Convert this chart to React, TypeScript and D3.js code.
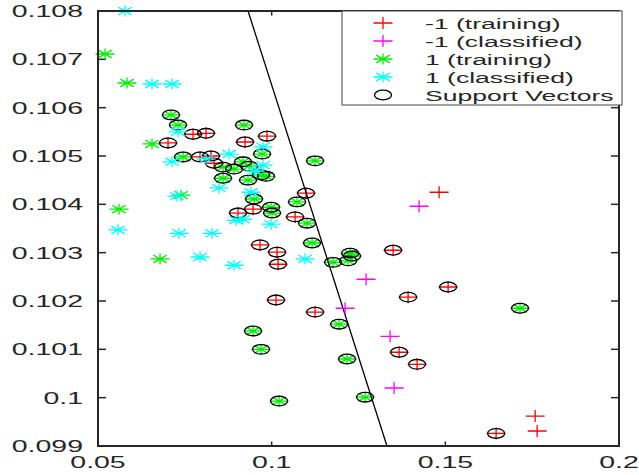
import React from "react";
import * as d3 from "d3";

// ---- data ----
const negTraining: [number, number][] = [
  [0.07016, 0.10527], [0.07736, 0.10545], [0.0811, 0.10547], [0.09234, 0.10529],
  [0.09867, 0.10541], [0.07938, 0.10498], [0.08254, 0.105], [0.08341, 0.10485],
  [0.09032, 0.10382], [0.09464, 0.1039], [0.1099, 0.10423], [0.10674, 0.10374],
  [0.09666, 0.10316], [0.10155, 0.10301], [0.10184, 0.10276], [0.10126, 0.10202],
  [0.1125, 0.10177], [0.13496, 0.10305], [0.1508, 0.10229], [0.13928, 0.10208],
  [0.13669, 0.10094], [0.14187, 0.10069], [0.16462, 0.09926],
  [0.14821, 0.10425], [0.17586, 0.09962], [0.17644, 0.09931],
];
const negClassified: [number, number][] = [
  [0.14245, 0.10396], [0.12718, 0.10245], [0.12114, 0.10185], [0.1341, 0.10127], [0.13525, 0.1002],
];
const posTraining: [number, number][] = [
  [0.05202, 0.10711], [0.05835, 0.10651], [0.06555, 0.10525], [0.05605, 0.1039],
  [0.0739, 0.10419], [0.06786, 0.10287],
  [0.07102, 0.10585], [0.07304, 0.10564], [0.07448, 0.10498], [0.09205, 0.10564],
  [0.09723, 0.10504], [0.086, 0.10477], [0.08917, 0.10473], [0.09176, 0.10488],
  [0.09349, 0.10479], [0.086, 0.10454], [0.0932, 0.1045], [0.09694, 0.10461],
  [0.09838, 0.10458], [0.09493, 0.10411], [0.09983, 0.10394], [0.10011, 0.10382],
  [0.10731, 0.10405], [0.11019, 0.10361], [0.1125, 0.1049], [0.11163, 0.1032],
  [0.11768, 0.1028], [0.12258, 0.10299], [0.12315, 0.10293], [0.122, 0.10283],
  [0.09464, 0.10138], [0.09694, 0.101], [0.10213, 0.09993], [0.11941, 0.10152],
  [0.12171, 0.1008], [0.1269, 0.10001], [0.1715, 0.10185],
];
const posClassified: [number, number][] = [
  [0.05778, 0.108], [0.06555, 0.10649], [0.07131, 0.10649], [0.07303, 0.1055],
  [0.07131, 0.10488], [0.0811, 0.10494], [0.08773, 0.10504], [0.08485, 0.10434],
  [0.09406, 0.10425], [0.09752, 0.10519], [0.09752, 0.10481], [0.09522, 0.10469],
  [0.08974, 0.10367], [0.09176, 0.10369], [0.09983, 0.10359], [0.05576, 0.10347],
  [0.07333, 0.1034], [0.08283, 0.1034], [0.07938, 0.10291], [0.08917, 0.10274],
  [0.10962, 0.10287], [0.07275, 0.10417],
];
const supportVectors: [number, number][] = [
  ...negTraining.slice(0, 23),
  ...posTraining.slice(6),
];
const boundary: [number, number][] = [[0.0932, 0.108], [0.1332, 0.099]];

const xTicks = [0.05, 0.1, 0.15, 0.2];
const xTickLabels = ["0.05", "0.1", "0.15", "0.2"];
const yTicks = [0.099, 0.1, 0.101, 0.102, 0.103, 0.104, 0.105, 0.106, 0.107, 0.108];
const yTickLabels = ["0.099", "0.1", "0.101", "0.102", "0.103", "0.104", "0.105", "0.106", "0.107", "0.108"];
const legendLabels = ["-1 (training)", "-1 (classified)", "1 (training)", "1 (classified)", "Support Vectors"];

// ---- layout ----
const W = 639, H = 475;
const L = 98, R = 619, T = 11, B = 446;
const SX = 1.78;
const RED = "#ff0000", MAG = "#ff00ff", GRN = "#00f000", CYN = "#00ffff";
const AX = "#262626";

const x = d3.scaleLinear().domain([0.05, 0.2]).range([L, R]);
const y = d3.scaleLinear().domain([0.099, 0.108]).range([B, T]);

const plusPath = (cx: number, cy: number) =>
  `M${cx - 9.5},${cy}H${cx + 9.5}M${cx},${cy - 6}V${cy + 6}`;
const starPath = (cx: number, cy: number) =>
  `M${cx - 9.5},${cy}H${cx + 9.5}M${cx},${cy - 5.5}V${cy + 5.5}` +
  `M${cx - 6.7},${cy - 3.9}L${cx + 6.7},${cy + 3.9}M${cx - 6.7},${cy + 3.9}L${cx + 6.7},${cy - 3.9}`;

function Txt({ x0, y0, anchor, size, children }: any) {
  return (
    <text
      transform={`translate(${x0},${y0}) scale(${SX},1)`}
      textAnchor={anchor}
      fontSize={size}
      fontFamily="'Liberation Sans', Arial, sans-serif"
      fill={AX}
    >
      {children}
    </text>
  );
}

export default function App() {
  const line = d3.line<[number, number]>().x((d) => x(d[0])).y((d) => y(d[1]));
  const legendRows = [
    { color: RED, kind: "plus" },
    { color: MAG, kind: "plus" },
    { color: GRN, kind: "star" },
    { color: CYN, kind: "star" },
    { color: "#000", kind: "circle" },
  ];
  const lx = 342, ly = 11, lw = 280, lh = 94;
  return (
    <svg width={W} height={H} style={{ position: "fixed", left: 0, top: 0, background: "#fff" }}>
      <rect x={0} y={0} width={W} height={H} fill="#fff" />
      <defs>
        <clipPath id="plotclip">
          <rect x={L - 12} y={T - 8} width={R - L + 24} height={B - T + 16} />
        </clipPath>
      </defs>
      {/* ticks */}
      {xTicks.map((t, i) => (
        <g key={"xt" + i}>
          <line x1={x(t)} x2={x(t)} y1={B} y2={B - 4.5} stroke={AX} strokeWidth={1.5} />
          <line x1={x(t)} x2={x(t)} y1={T} y2={T + 4.5} stroke={AX} strokeWidth={1.5} />
          <Txt x0={x(t)} y0={468} anchor="middle" size={16}>{xTickLabels[i]}</Txt>
        </g>
      ))}
      {yTicks.map((t, i) => (
        <g key={"yt" + i}>
          <line x1={L} x2={L + 8} y1={y(t)} y2={y(t)} stroke={AX} strokeWidth={1.5} />
          <line x1={R} x2={R - 8} y1={y(t)} y2={y(t)} stroke={AX} strokeWidth={1.5} />
          <Txt x0={83} y0={y(t) + 6} anchor="end" size={16}>{yTickLabels[i]}</Txt>
        </g>
      ))}
      <g clipPath="url(#plotclip)" fill="none" strokeWidth={1.3}>
        {negTraining.map((d, i) => (
          <path key={"nt" + i} d={plusPath(x(d[0]), y(d[1]))} stroke={RED} />
        ))}
        {posTraining.map((d, i) => (
          <path key={"pt" + i} d={starPath(x(d[0]), y(d[1]))} stroke={GRN} />
        ))}
        {supportVectors.map((d, i) => (
          <ellipse key={"sv" + i} cx={x(d[0])} cy={y(d[1])} rx={8.5} ry={4.8} stroke="#000" />
        ))}
        <path d={line(boundary) || ""} stroke="#000" strokeWidth={1.3} />
        {negClassified.map((d, i) => (
          <path key={"nc" + i} d={plusPath(x(d[0]), y(d[1]))} stroke={MAG} />
        ))}
        {posClassified.map((d, i) => (
          <path key={"pc" + i} d={starPath(x(d[0]), y(d[1]))} stroke={CYN} />
        ))}
      </g>
      {/* axes box */}
      <rect x={L} y={T} width={R - L} height={B - T} fill="none" stroke={AX} strokeWidth={2} />
      {/* legend */}
      <rect x={lx} y={ly} width={lw} height={lh} fill="#fff" stroke="#444" strokeWidth={1} />
      {legendRows.map((r, i) => {
        const cy = 23 + i * 18;
        const cx = 383;
        return (
          <g key={"lg" + i}>
            {r.kind === "plus" && <path d={plusPath(cx, cy)} stroke={r.color} strokeWidth={1.3} fill="none" />}
            {r.kind === "star" && <path d={starPath(cx, cy)} stroke={r.color} strokeWidth={1.3} fill="none" />}
            {r.kind === "circle" && <ellipse cx={cx} cy={cy} rx={8.5} ry={4.8} stroke="#000" strokeWidth={1.3} fill="none" />}
            <Txt x0={425} y0={cy + 5.5} anchor="start" size={14.9}>{legendLabels[i]}</Txt>
          </g>
        );
      })}
    </svg>
  );
}
